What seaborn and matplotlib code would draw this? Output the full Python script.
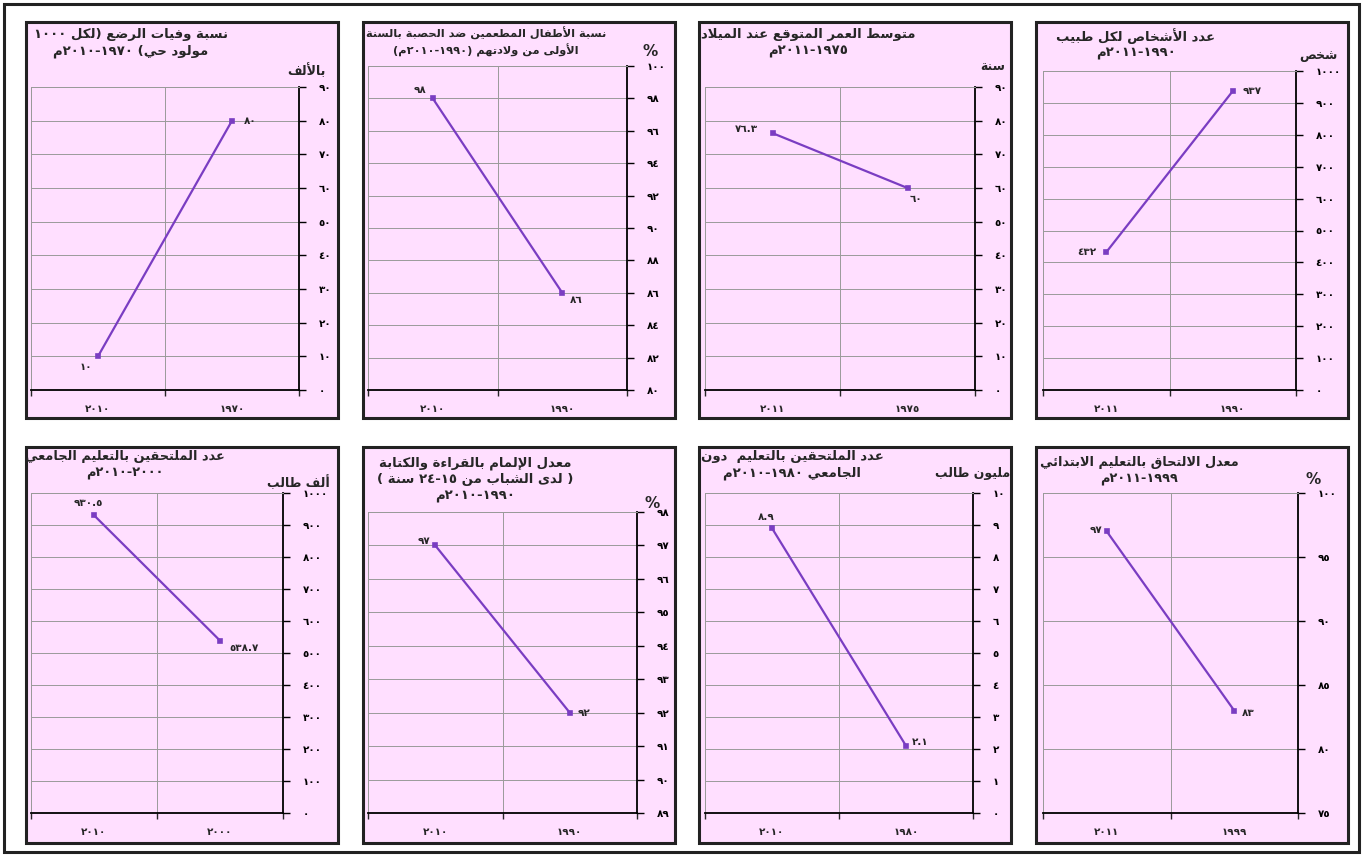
import re
import numpy as np
import pandas as pd
import seaborn as sns
import matplotlib
matplotlib.use('Agg')
import matplotlib.pyplot as plt
from matplotlib.patches import Rectangle
from matplotlib.ticker import FuncFormatter

# ---------------- data (panels read right-to-left, top row then bottom row) ----------------
titles = [
    'نسبة وفيات الرضع (لكل ١٠٠٠\nمولود حي) ١٩٧٠-٢٠١٠م',
    'نسبة الأطفال المطعمين ضد الحصبة بالسنة\nالأولى من ولادتهم (١٩٩٠-٢٠١٠م)',
    'متوسط العمر المتوقع عند الميلاد\n١٩٧٥-٢٠١١م',
    'عدد الأشخاص لكل طبيب\n١٩٩٠-٢٠١١م',
    'عدد الملتحقين بالتعليم الجامعي\n٢٠٠٠-٢٠١٠م',
    'معدل الإلمام بالقراءة والكتابة\n( لدى الشباب من ١٥-٢٤ سنة )\n١٩٩٠-٢٠١٠م',
    'عدد الملتحقين بالتعليم  دون\nالجامعي ١٩٨٠-٢٠١٠م',
    'معدل الالتحاق بالتعليم الابتدائي\n١٩٩٩-٢٠١١م',
]
units = ['بالألف', '%', 'سنة', 'شخص', 'ألف طالب', '%', 'مليون طالب', '%']

# categories as drawn from left to right
years = [[2010, 1970], [2010, 1990], [2011, 1975], [2011, 1990],
         [2010, 2000], [2010, 1990], [2010, 1980], [2011, 1999]]
values = [[10, 80], [98, 86], [76.3, 60], [432, 937],
          [930.5, 538.7], [97, 92], [8.9, 2.1], [97, 83]]

y_min = [0, 80, 0, 0, 0, 89, 0, 75]
y_max = [90, 100, 90, 1000, 1000, 98, 10, 100]
y_step = [10, 2, 10, 100, 100, 1, 1, 5]

# ---------------- layout (pixels of the 1363x857 picture) ----------------
W, H = 1363, 857
panel_x = [26, 363, 699, 1036, 26, 363, 699, 1036]
panel_y = [22, 22, 22, 22, 447, 447, 447, 447]
panel_w, panel_h = 312, 396
plot_box = [(31, 87, 299, 390), (368, 66, 627, 390), (705, 87, 975, 390), (1043, 71, 1296, 390),
            (31, 493, 283, 813), (368, 512, 637, 813), (705, 493, 973, 813), (1043, 493, 1298, 813)]
title_pos = [(131, 43), (486, 42), (808, 43), (1136, 44),
             (125, 465), (475, 480), (792, 465), (1139, 471)]
title_size = [9.5, 8.2, 9.5, 9.5, 9.3, 9.5, 9.5, 9.3]
unit_pos = [(326, 71, 'right'), (650, 52, 'center'), (1005, 66, 'right'), (1338, 56, 'right'),
            (330, 483, 'right'), (652, 503, 'center'), (1010, 473, 'right'), (1313, 480, 'center')]
label_off = [[(-9, -8), (13, 0)], [(-9, 6), (10, -5)], [(-19, 3), (6, -8)], [(-14, 0), (14, 0)],
             [(-4, 9), (17, -5)], [(-8, 3), (10, 0)], [(-4, 8), (10, 3)], [(-8, 1), (10, -2)]]

PINK = '#FFDFFF'
LINE = '#7A3DC2'
GRID = '#9A9A9A'

# ---------------- minimal Arabic shaping + right-to-left ordering ----------------
AR_FORMS = {
    'ء': (0xFE80, 1), 'آ': (0xFE81, 2), 'أ': (0xFE83, 2), 'ؤ': (0xFE85, 2),
    'إ': (0xFE87, 2), 'ئ': (0xFE89, 4), 'ا': (0xFE8D, 2), 'ب': (0xFE8F, 4),
    'ة': (0xFE93, 2), 'ت': (0xFE95, 4), 'ث': (0xFE99, 4), 'ج': (0xFE9D, 4),
    'ح': (0xFEA1, 4), 'خ': (0xFEA5, 4), 'د': (0xFEA9, 2), 'ذ': (0xFEAB, 2),
    'ر': (0xFEAD, 2), 'ز': (0xFEAF, 2), 'س': (0xFEB1, 4), 'ش': (0xFEB5, 4),
    'ص': (0xFEB9, 4), 'ض': (0xFEBD, 4), 'ط': (0xFEC1, 4), 'ظ': (0xFEC5, 4),
    'ع': (0xFEC9, 4), 'غ': (0xFECD, 4), 'ف': (0xFED1, 4), 'ق': (0xFED5, 4),
    'ك': (0xFED9, 4), 'ل': (0xFEDD, 4), 'م': (0xFEE1, 4), 'ن': (0xFEE5, 4),
    'ه': (0xFEE9, 4), 'و': (0xFEED, 2), 'ى': (0xFEEF, 2), 'ي': (0xFEF1, 4),
}
LAM_ALEF = {'آ': 0xFEF5, 'أ': 0xFEF7, 'إ': 0xFEF9, 'ا': 0xFEFB}


def shape(s):
    units_ = []
    i = 0
    while i < len(s):
        if s[i] == 'ل' and i + 1 < len(s) and s[i + 1] in LAM_ALEF:
            units_.append((LAM_ALEF[s[i + 1]], 2))
            i += 2
        elif s[i] in AR_FORMS:
            units_.append(AR_FORMS[s[i]])
            i += 1
        else:
            units_.append((s[i], 0))
            i += 1
    out = []
    for k, (b, n) in enumerate(units_):
        if n == 0:
            out.append(b)
            continue
        prev = k > 0 and units_[k - 1][1] == 4
        nxt = n == 4 and k + 1 < len(units_) and units_[k + 1][1] > 0
        if n == 1:
            f = 0
        elif n == 2:
            f = 1 if prev else 0
        else:
            f = [[0, 2], [1, 3]][prev][nxt]
        out.append(chr(b + f))
    return ''.join(out)


def ar(text):
    lines = []
    for line in text.split('\n'):
        toks = re.findall(r'[0-9\u0660-\u0669]+(?:\.[0-9\u0660-\u0669]+)*|.', shape(line))
        mirror = {'(': ')', ')': '('}
        lines.append(''.join(mirror.get(t, t) for t in reversed(toks)))
    return '\n'.join(lines)


AR_DIGITS = str.maketrans('0123456789', '٠١٢٣٤٥٦٧٨٩')


def ar_num(v):
    return f'{v:g}'.translate(AR_DIGITS)


# ---------------- drawing ----------------
sns.set_style('white')
plt.rcParams['font.family'] = ['DejaVu Sans']
plt.rcParams['font.weight'] = 'bold'

fig = plt.figure(figsize=(W / 100, H / 100), dpi=100)
fig.patch.set_facecolor('white')

# outer frame
fig.add_artist(Rectangle((4 / W, 1 - 852 / H), 1355 / W, 848 / H, transform=fig.transFigure,
                         fill=False, edgecolor='#222222', lw=2.2))

for i in range(8):
    px, py = panel_x[i], panel_y[i]
    fig.add_artist(Rectangle((px / W, 1 - (py + panel_h) / H), panel_w / W, panel_h / H,
                             transform=fig.transFigure, facecolor=PINK,
                             edgecolor='#222222', lw=2.2, zorder=0))

    x0, y0, x1, y1 = plot_box[i]
    ax = fig.add_axes([x0 / W, 1 - y1 / H, (x1 - x0) / W, (y1 - y0) / H])
    df = pd.DataFrame({'year': [ar_num(y) for y in years[i]], 'value': values[i]})
    sns.pointplot(data=df, x='year', y='value', order=list(df['year']), color=LINE,
                  markers='s', markersize=3, linewidth=1.6, ax=ax)

    ax.set_facecolor(PINK)
    ax.set_xlim(-0.5, 1.5)
    ax.set_ylim(y_min[i], y_max[i])
    ax.set_yticks(np.arange(y_min[i], y_max[i] + y_step[i] / 2, y_step[i]))
    ax.yaxis.tick_right()
    ax.yaxis.set_major_formatter(FuncFormatter(lambda v, p: ar_num(round(v, 3))))
    ax.tick_params(axis='y', direction='out', length=5, width=1, pad=9, labelsize=7.5,
                   colors='black', right=True, left=False)
    ax.set_xticks([-0.5, 0.5, 1.5], minor=True)
    ax.tick_params(axis='x', which='major', length=0, pad=10, labelsize=7.5)
    ax.tick_params(axis='x', which='minor', direction='out', length=4, width=1, bottom=True)
    ax.grid(axis='y', which='major', color=GRID, lw=0.7)
    ax.grid(axis='x', which='minor', color=GRID, lw=0.7)
    ax.set_axisbelow(True)
    ax.set_xlabel('')
    ax.set_ylabel('')
    for s in ['left', 'top']:
        ax.spines[s].set_color(GRID)
        ax.spines[s].set_linewidth(0.7)
    for s in ['right', 'bottom']:
        ax.spines[s].set_color('black')
        ax.spines[s].set_linewidth(1.3)

    for xi, v in enumerate(values[i]):
        ax.annotate(ar_num(v), (xi, v), xytext=label_off[i][xi], textcoords='offset points',
                    ha='center', va='center', fontsize=7.5, fontweight='bold')

    tx, ty = title_pos[i]
    fig.text(tx / W, 1 - ty / H, ar(titles[i]), ha='center', va='center', fontsize=title_size[i],
             fontweight='bold', linespacing=1.3)
    ux, uy, uha = unit_pos[i]
    fig.text(ux / W, 1 - uy / H, ar(units[i]), ha=uha, va='center',
             fontsize=11 if units[i] == '%' else 9, fontweight='bold')

fig.savefig('out.png', dpi=100, facecolor='white')
